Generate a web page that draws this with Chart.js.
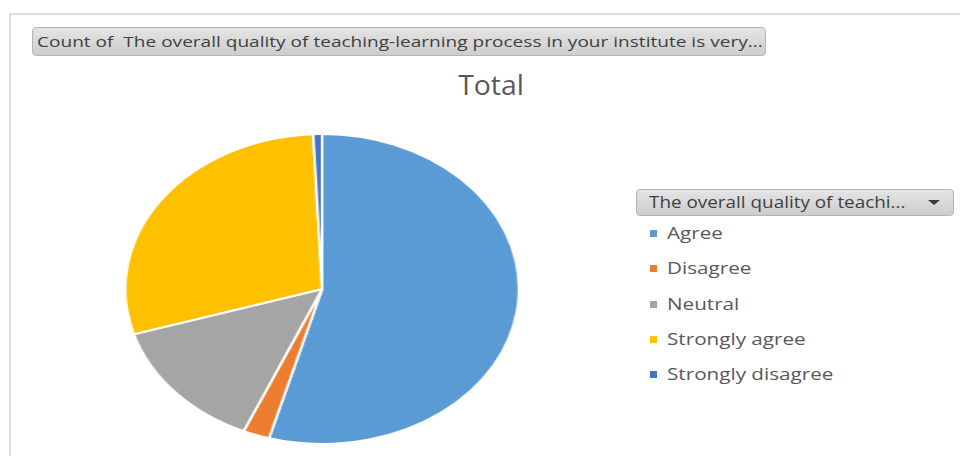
<!DOCTYPE html>
<html lang="en">
<head>
  <meta charset="UTF-8">
  <title>Count of The overall quality of teaching-learning process</title>
  <script src="https://cdn.jsdelivr.net/npm/chart.js"></script>
  <style>
    body {
      margin: 0;
      width: 960px;
      height: 456px;
      overflow: hidden;
      background: #ffffff;
      font-family: "Open Sans", "Noto Sans", sans-serif;
      position: relative;
    }

    /* light grey edge of the chart area */
    .frame {
      position: absolute;
      left: 9px;
      top: 13px;
      width: 980px;
      height: 480px;
      border-left: 2px solid #dcdcdc;
      border-top: 2px solid #dcdcdc;
    }

    /* pivot field buttons */
    .field-btn {
      position: absolute;
      box-sizing: border-box;
      border: 1px solid #b4b4b4;
      border-radius: 4px;
      background: linear-gradient(#e4e4e4, #cdcdcd);
      color: #3f3f3f;
      white-space: nowrap;
      overflow: hidden;
    }
    .field-btn span {
      position: absolute;
      display: inline-block;
      transform-origin: 0 50%;
    }
    .value-btn { left: 32px; top: 27px; width: 734px; height: 29px; font-size: 15px; }
    .value-btn span { left: 4px; top: 3px; transform: scaleX(1.27); }
    .legend-btn { left: 636px; top: 189px; width: 318px; height: 27px; font-size: 16px; }
    .legend-btn span { left: 12px; top: 1px; transform: scaleX(1.18); }
    .arrow {
      position: absolute;
      left: 291px;
      top: 10px;
      width: 0;
      height: 0;
      border-left: 6px solid transparent;
      border-right: 6px solid transparent;
      border-top: 5px solid #3a3a3a;
    }

    .title {
      position: absolute;
      left: 491px;
      top: 71px;
      font-size: 27px;
      line-height: 1;
      color: #595959;
      white-space: nowrap;
      transform: translateX(-50%) scaleX(1.05);
    }

    /* pie is stretched horizontally like the screenshot */
    .pie-box {
      position: absolute;
      left: 124px;
      top: 133px;
      width: 312px;
      height: 312px;
      transform: scaleX(1.27);
      transform-origin: 0 0;
    }

    .legend {
      position: absolute;
      left: 650px;
      top: 223px;
      margin: 0;
      padding: 0;
      list-style: none;
    }
    .legend li {
      position: relative;
      height: 35.3px;
      font-size: 17px;
      color: #595959;
      white-space: nowrap;
    }
    .legend .box {
      position: absolute;
      left: 0;
      top: 7px;
      width: 7px;
      height: 7px;
    }
    .legend .txt {
      position: absolute;
      left: 17px;
      top: -2px;
      display: inline-block;
      transform: scaleX(1.215);
      transform-origin: 0 50%;
    }
  </style>
</head>
<body>
  <div class="frame"></div>
  <div class="field-btn value-btn"><span>Count of &nbsp;The overall quality of teaching-learning process in your institute is very...</span></div>
  <div class="title">Total</div>
  <div class="pie-box"><canvas id="pie" width="312" height="312"></canvas></div>
  <div class="field-btn legend-btn"><span>The overall quality of teachi...</span><div class="arrow"></div></div>
  <ul class="legend" id="legend"></ul>

  <script>
    // responses to the survey question
    const categories = ['Agree', 'Disagree', 'Neutral', 'Strongly agree', 'Strongly disagree'];
    const counts = [75, 3, 19, 40, 1];
    const colors = ['#5B9BD5', '#ED7D31', '#A5A5A5', '#FFC000', '#4472C4'];

    const ctx = document.getElementById('pie').getContext('2d');
    const pieChart = new Chart(ctx, {
      type: 'pie',
      data: {
        labels: categories,
        datasets: [{
          label: 'Total',
          data: counts,
          backgroundColor: colors,
          borderColor: '#ffffff',
          borderWidth: 2,
        }]
      },
      options: {
        responsive: false,
        animation: false,
        events: [],
        layout: { padding: 0 },
        plugins: {
          legend: { display: false },
          tooltip: { enabled: false },
          title: { display: false },
        },
      },
    });

    // html legend built from the chart's own labels and colours
    const legendEl = document.getElementById('legend');
    pieChart.data.labels.forEach((label, i) => {
      const li = document.createElement('li');
      const box = document.createElement('span');
      box.className = 'box';
      box.style.background = pieChart.data.datasets[0].backgroundColor[i];
      const txt = document.createElement('span');
      txt.className = 'txt';
      txt.textContent = label;
      li.appendChild(box);
      li.appendChild(txt);
      legendEl.appendChild(li);
    });
  </script>
</body>
</html>
